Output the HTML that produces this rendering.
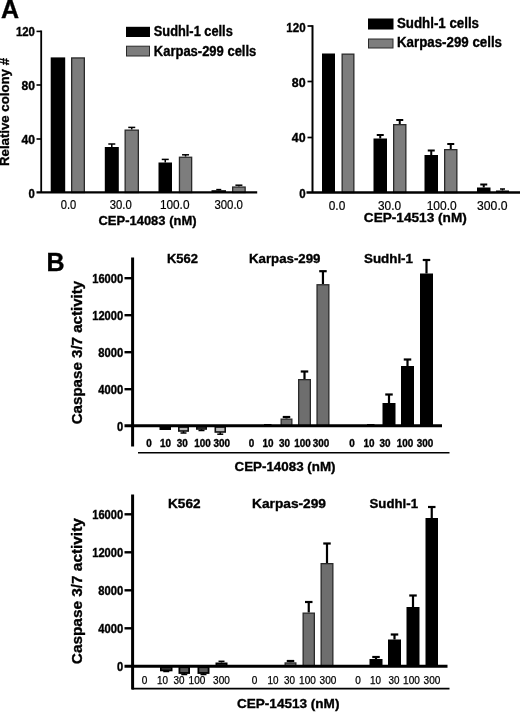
<!DOCTYPE html>
<html lang="en">
<head>
<meta charset="utf-8">
<title>Figure</title>
<style>
html,body{margin:0;padding:0;background:#fff;}
svg{display:block;font-family:"Liberation Sans",Arial,sans-serif;fill:#000;}
</style>
</head>
<body>
<svg width="520" height="712" viewBox="0 0 520 712">
<rect x="0" y="0" width="520" height="712" fill="#fff"/>
<text x="0.9" y="18" font-size="25" font-weight="bold" stroke="#000" stroke-width="0.35">A</text>
<text x="34.9" y="36.4" font-size="12.5" font-weight="bold" stroke="#000" stroke-width="0.35" text-anchor="end" textLength="19" lengthAdjust="spacingAndGlyphs">120</text>
<text x="34.9" y="89.5" font-size="12.5" font-weight="bold" stroke="#000" stroke-width="0.35" text-anchor="end" textLength="13.5" lengthAdjust="spacingAndGlyphs">80</text>
<text x="34.9" y="143.7" font-size="12.5" font-weight="bold" stroke="#000" stroke-width="0.35" text-anchor="end" textLength="13.5" lengthAdjust="spacingAndGlyphs">40</text>
<text x="34.9" y="197.5" font-size="12.5" font-weight="bold" stroke="#000" stroke-width="0.35" text-anchor="end" textLength="6.3" lengthAdjust="spacingAndGlyphs">0</text>
<text transform="translate(9,166) rotate(-90)" font-size="13" font-weight="bold" stroke="#000" stroke-width="0.35" textLength="108" lengthAdjust="spacingAndGlyphs">Relative colony #</text>
<rect x="50.7" y="57.4" width="14.5" height="135.1" fill="#000"/>
<rect x="71.65" y="57.95" width="12.70" height="134.55" fill="#7d7d7d" stroke="#2a2a2a" stroke-width="1.3"/>
<line x1="111.8" y1="147" x2="111.8" y2="144" stroke="#000" stroke-width="1.5"/>
<line x1="108.3" y1="144" x2="115.3" y2="144" stroke="#000" stroke-width="1.5"/>
<rect x="104.8" y="147" width="14.0" height="45.5" fill="#000"/>
<line x1="131.75" y1="129.5" x2="131.75" y2="127.4" stroke="#000" stroke-width="1.5"/>
<line x1="128.25" y1="127.4" x2="135.25" y2="127.4" stroke="#000" stroke-width="1.5"/>
<rect x="125.15" y="130.15" width="13.20" height="62.35" fill="#7d7d7d" stroke="#2a2a2a" stroke-width="1.3"/>
<line x1="165.25" y1="162.5" x2="165.25" y2="159.4" stroke="#000" stroke-width="1.5"/>
<line x1="161.75" y1="159.4" x2="168.75" y2="159.4" stroke="#000" stroke-width="1.5"/>
<rect x="158.5" y="162.5" width="13.5" height="30.0" fill="#000"/>
<line x1="185.55" y1="156.6" x2="185.55" y2="154.8" stroke="#000" stroke-width="1.5"/>
<line x1="182.05" y1="154.8" x2="189.05" y2="154.8" stroke="#000" stroke-width="1.5"/>
<rect x="179.45" y="157.25" width="12.20" height="35.25" fill="#7d7d7d" stroke="#2a2a2a" stroke-width="1.3"/>
<line x1="218.75" y1="190.2" x2="218.75" y2="189.6" stroke="#000" stroke-width="1.5"/>
<line x1="216.25" y1="189.6" x2="221.25" y2="189.6" stroke="#000" stroke-width="1.5"/>
<rect x="211.5" y="190.2" width="14.5" height="2.3000000000000114" fill="#000"/>
<line x1="238.9" y1="186.4" x2="238.9" y2="185.2" stroke="#000" stroke-width="1.5"/>
<line x1="235.4" y1="185.2" x2="242.4" y2="185.2" stroke="#000" stroke-width="1.5"/>
<rect x="232.65" y="187.05" width="12.50" height="5.45" fill="#7d7d7d" stroke="#2a2a2a" stroke-width="1.3"/>
<line x1="41.2" y1="30.5" x2="41.2" y2="193" stroke="#000" stroke-width="1.8"/>
<line x1="36.5" y1="31.4" x2="41.3" y2="31.4" stroke="#000" stroke-width="1.6"/>
<line x1="36.5" y1="85" x2="41.3" y2="85" stroke="#000" stroke-width="1.6"/>
<line x1="36.5" y1="139" x2="41.3" y2="139" stroke="#000" stroke-width="1.6"/>
<line x1="36.5" y1="192.4" x2="257.2" y2="192.4" stroke="#000" stroke-width="2.4"/>
<text x="68.5" y="208.8" font-size="12" text-anchor="middle" textLength="15.5" lengthAdjust="spacingAndGlyphs" stroke="#000" stroke-width="0.2">0.0</text>
<text x="120.8" y="208.8" font-size="12" text-anchor="middle" textLength="22" lengthAdjust="spacingAndGlyphs" stroke="#000" stroke-width="0.2">30.0</text>
<text x="174.7" y="208.8" font-size="12" text-anchor="middle" textLength="29.5" lengthAdjust="spacingAndGlyphs" stroke="#000" stroke-width="0.2">100.0</text>
<text x="228.7" y="208.8" font-size="12" text-anchor="middle" textLength="28.5" lengthAdjust="spacingAndGlyphs" stroke="#000" stroke-width="0.2">300.0</text>
<text x="147.5" y="224.6" font-size="13.5" font-weight="bold" stroke="#000" stroke-width="0.35" text-anchor="middle" textLength="98" lengthAdjust="spacingAndGlyphs">CEP-14083 (nM)</text>
<rect x="126" y="26.8" width="24" height="10.2" fill="#000"/>
<rect x="126.5" y="46.2" width="23" height="9.8" fill="#7d7d7d" stroke="#2a2a2a" stroke-width="1"/>
<text x="153.8" y="36.3" font-size="14" font-weight="bold" stroke="#000" stroke-width="0.35" textLength="79" lengthAdjust="spacingAndGlyphs">Sudhl-1 cells</text>
<text x="153.8" y="55.8" font-size="14" font-weight="bold" stroke="#000" stroke-width="0.35" textLength="102.5" lengthAdjust="spacingAndGlyphs">Karpas-299 cells</text>
<text x="305.6" y="31.6" font-size="12.5" font-weight="bold" stroke="#000" stroke-width="0.35" text-anchor="end" textLength="19.3" lengthAdjust="spacingAndGlyphs">120</text>
<text x="305.6" y="87.1" font-size="12.5" font-weight="bold" stroke="#000" stroke-width="0.35" text-anchor="end" textLength="13.8" lengthAdjust="spacingAndGlyphs">80</text>
<text x="305.6" y="142.3" font-size="12.5" font-weight="bold" stroke="#000" stroke-width="0.35" text-anchor="end" textLength="13.8" lengthAdjust="spacingAndGlyphs">40</text>
<text x="305.6" y="197.6" font-size="12.5" font-weight="bold" stroke="#000" stroke-width="0.35" text-anchor="end" textLength="6.4" lengthAdjust="spacingAndGlyphs">0</text>
<rect x="322" y="53.5" width="13" height="139.0" fill="#000"/>
<rect x="342.15" y="54.15" width="11.70" height="138.35" fill="#7d7d7d" stroke="#2a2a2a" stroke-width="1.3"/>
<line x1="380.25" y1="138.5" x2="380.25" y2="135" stroke="#000" stroke-width="2"/>
<line x1="376.75" y1="135" x2="383.75" y2="135" stroke="#000" stroke-width="2"/>
<rect x="373.5" y="138.5" width="13.5" height="54.0" fill="#000"/>
<line x1="399.75" y1="124" x2="399.75" y2="120" stroke="#000" stroke-width="2"/>
<line x1="396.25" y1="120" x2="403.25" y2="120" stroke="#000" stroke-width="2"/>
<rect x="393.65" y="124.65" width="12.20" height="67.85" fill="#7d7d7d" stroke="#2a2a2a" stroke-width="1.3"/>
<line x1="431.25" y1="155" x2="431.25" y2="150.5" stroke="#000" stroke-width="2"/>
<line x1="427.75" y1="150.5" x2="434.75" y2="150.5" stroke="#000" stroke-width="2"/>
<rect x="424.5" y="155" width="13.5" height="37.5" fill="#000"/>
<line x1="450.75" y1="149" x2="450.75" y2="144" stroke="#000" stroke-width="2"/>
<line x1="447.25" y1="144" x2="454.25" y2="144" stroke="#000" stroke-width="2"/>
<rect x="444.65" y="149.65" width="12.20" height="42.85" fill="#7d7d7d" stroke="#2a2a2a" stroke-width="1.3"/>
<line x1="483.75" y1="187.5" x2="483.75" y2="184.5" stroke="#000" stroke-width="2"/>
<line x1="480.25" y1="184.5" x2="487.25" y2="184.5" stroke="#000" stroke-width="2"/>
<rect x="477" y="187.5" width="13.5" height="5.0" fill="#000"/>
<line x1="502.5" y1="190.5" x2="502.5" y2="189" stroke="#000" stroke-width="1.5"/>
<line x1="500.0" y1="189" x2="505.0" y2="189" stroke="#000" stroke-width="1.5"/>
<rect x="496" y="190.5" width="13" height="2.0" fill="#000"/>
<line x1="312.5" y1="25.2" x2="312.5" y2="193" stroke="#000" stroke-width="2"/>
<line x1="307.5" y1="26" x2="312.5" y2="26" stroke="#000" stroke-width="1.7"/>
<line x1="307.5" y1="81.5" x2="312.5" y2="81.5" stroke="#000" stroke-width="1.7"/>
<line x1="307.5" y1="137.5" x2="312.5" y2="137.5" stroke="#000" stroke-width="1.7"/>
<line x1="306.5" y1="192.5" x2="520" y2="192.5" stroke="#000" stroke-width="2.4"/>
<text x="337" y="210" font-size="12.3" text-anchor="middle" textLength="16.5" lengthAdjust="spacingAndGlyphs" stroke="#000" stroke-width="0.2">0.0</text>
<text x="389.5" y="210" font-size="12.3" text-anchor="middle" textLength="23" lengthAdjust="spacingAndGlyphs" stroke="#000" stroke-width="0.2">30.0</text>
<text x="441.7" y="210" font-size="12.3" text-anchor="middle" textLength="30" lengthAdjust="spacingAndGlyphs" stroke="#000" stroke-width="0.2">100.0</text>
<text x="492.3" y="210" font-size="12.3" text-anchor="middle" textLength="30.5" lengthAdjust="spacingAndGlyphs" stroke="#000" stroke-width="0.2">300.0</text>
<text x="415.3" y="222.4" font-size="13.5" font-weight="bold" stroke="#000" stroke-width="0.35" text-anchor="middle" textLength="103" lengthAdjust="spacingAndGlyphs">CEP-14513 (nM)</text>
<rect x="368" y="18.5" width="25.5" height="11" fill="#000"/>
<rect x="368.5" y="39" width="24.5" height="9" fill="#7d7d7d" stroke="#2a2a2a" stroke-width="1"/>
<text x="397" y="28.3" font-size="14" font-weight="bold" stroke="#000" stroke-width="0.35" textLength="82" lengthAdjust="spacingAndGlyphs">Sudhl-1 cells</text>
<text x="397" y="47.3" font-size="14" font-weight="bold" stroke="#000" stroke-width="0.35" textLength="105" lengthAdjust="spacingAndGlyphs">Karpas-299 cells</text>
<text x="46.4" y="270.9" font-size="25" font-weight="bold" stroke="#000" stroke-width="0.35">B</text>
<text x="123.2" y="430.59999999999997" font-size="12" font-weight="bold" stroke="#000" stroke-width="0.35" text-anchor="end" textLength="6.2" lengthAdjust="spacingAndGlyphs">0</text>
<text x="123.2" y="393.59999999999997" font-size="12" font-weight="bold" stroke="#000" stroke-width="0.35" text-anchor="end" textLength="25" lengthAdjust="spacingAndGlyphs">4000</text>
<line x1="124.5" y1="389.2" x2="133" y2="389.2" stroke="#000" stroke-width="2.4"/>
<text x="123.2" y="356.59999999999997" font-size="12" font-weight="bold" stroke="#000" stroke-width="0.35" text-anchor="end" textLength="25" lengthAdjust="spacingAndGlyphs">8000</text>
<line x1="124.5" y1="352.2" x2="133" y2="352.2" stroke="#000" stroke-width="2.4"/>
<text x="123.2" y="319.59999999999997" font-size="12" font-weight="bold" stroke="#000" stroke-width="0.35" text-anchor="end" textLength="31" lengthAdjust="spacingAndGlyphs">12000</text>
<line x1="124.5" y1="315.2" x2="133" y2="315.2" stroke="#000" stroke-width="2.4"/>
<text x="123.2" y="282.59999999999997" font-size="12" font-weight="bold" stroke="#000" stroke-width="0.35" text-anchor="end" textLength="31" lengthAdjust="spacingAndGlyphs">16000</text>
<line x1="124.5" y1="278.2" x2="133" y2="278.2" stroke="#000" stroke-width="2.4"/>
<text transform="translate(82.4,424.3) rotate(-90)" font-size="14" font-weight="bold" stroke="#000" stroke-width="0.35" textLength="143.5" lengthAdjust="spacingAndGlyphs">Caspase 3/7 activity</text>
<text x="167" y="263.2" font-size="13" font-weight="bold" stroke="#000" stroke-width="0.35" textLength="31" lengthAdjust="spacingAndGlyphs">K562</text>
<text x="249" y="263.2" font-size="13" font-weight="bold" stroke="#000" stroke-width="0.35" textLength="71.5" lengthAdjust="spacingAndGlyphs">Karpas-299</text>
<text x="364" y="263.2" font-size="13" font-weight="bold" stroke="#000" stroke-width="0.35" textLength="49" lengthAdjust="spacingAndGlyphs">Sudhl-1</text>
<rect x="159.5" y="426.2" width="11.5" height="3.8000000000000114" fill="#000"/>
<line x1="183.5" y1="431" x2="183.5" y2="433" stroke="#000" stroke-width="1.5"/>
<line x1="180.5" y1="433" x2="186.5" y2="433" stroke="#000" stroke-width="1.5"/>
<rect x="178.80" y="427.00" width="9.40" height="4.00" fill="#bbb" stroke="#111" stroke-width="1.6"/>
<line x1="201.5" y1="429" x2="201.5" y2="430.5" stroke="#000" stroke-width="1.5"/>
<line x1="198.5" y1="430.5" x2="204.5" y2="430.5" stroke="#000" stroke-width="1.5"/>
<rect x="196.80" y="427.00" width="9.40" height="2.00" fill="#888" stroke="#111" stroke-width="1.6"/>
<line x1="220.25" y1="432" x2="220.25" y2="434.2" stroke="#000" stroke-width="1.5"/>
<line x1="217.25" y1="434.2" x2="223.25" y2="434.2" stroke="#000" stroke-width="1.5"/>
<rect x="215.30" y="427.00" width="9.90" height="5.00" fill="#bbb" stroke="#111" stroke-width="1.6"/>
<rect x="264" y="424" width="7.5" height="2.1999999999999886" fill="#000"/>
<line x1="286.5" y1="418.5" x2="286.5" y2="417" stroke="#000" stroke-width="2.2"/>
<line x1="282.75" y1="417" x2="290.25" y2="417" stroke="#000" stroke-width="2.2"/>
<rect x="281.15" y="419.15" width="10.70" height="7.05" fill="#6e6e6e" stroke="#2a2a2a" stroke-width="1.3"/>
<line x1="304.5" y1="379" x2="304.5" y2="371.5" stroke="#000" stroke-width="2.2"/>
<line x1="300.75" y1="371.5" x2="308.25" y2="371.5" stroke="#000" stroke-width="2.2"/>
<rect x="298.65" y="379.65" width="11.70" height="46.55" fill="#6e6e6e" stroke="#2a2a2a" stroke-width="1.3"/>
<line x1="322.95" y1="284.1" x2="322.95" y2="271.2" stroke="#000" stroke-width="2.2"/>
<line x1="319.2" y1="271.2" x2="326.7" y2="271.2" stroke="#000" stroke-width="2.2"/>
<rect x="317.05" y="284.75" width="11.80" height="141.45" fill="#6e6e6e" stroke="#2a2a2a" stroke-width="1.3"/>
<rect x="367" y="424" width="7.5" height="2.1999999999999886" fill="#000"/>
<line x1="389.0" y1="403" x2="389.0" y2="394.5" stroke="#000" stroke-width="2.2"/>
<line x1="385.25" y1="394.5" x2="392.75" y2="394.5" stroke="#000" stroke-width="2.2"/>
<rect x="382.5" y="403" width="13.0" height="23.19999999999999" fill="#000"/>
<line x1="407.5" y1="366" x2="407.5" y2="359.5" stroke="#000" stroke-width="2.2"/>
<line x1="403.75" y1="359.5" x2="411.25" y2="359.5" stroke="#000" stroke-width="2.2"/>
<rect x="401" y="366" width="13" height="60.19999999999999" fill="#000"/>
<line x1="426.5" y1="273.5" x2="426.5" y2="260" stroke="#000" stroke-width="2.2"/>
<line x1="422.75" y1="260" x2="430.25" y2="260" stroke="#000" stroke-width="2.2"/>
<rect x="420" y="273.5" width="13" height="152.7" fill="#000"/>
<line x1="132.6" y1="257.5" x2="132.6" y2="446.5" stroke="#000" stroke-width="3"/>
<line x1="124.5" y1="425.8" x2="442" y2="425.8" stroke="#000" stroke-width="3"/>
<line x1="138" y1="452.7" x2="449.5" y2="452.7" stroke="#000" stroke-width="1.6"/>
<text x="149" y="447.3" font-size="10" font-weight="bold" stroke="#000" stroke-width="0.35" text-anchor="middle" textLength="5.5" lengthAdjust="spacingAndGlyphs">0</text>
<text x="165.4" y="447.3" font-size="10" font-weight="bold" stroke="#000" stroke-width="0.35" text-anchor="middle" textLength="11" lengthAdjust="spacingAndGlyphs">10</text>
<text x="182.3" y="447.3" font-size="10" font-weight="bold" stroke="#000" stroke-width="0.35" text-anchor="middle" textLength="11" lengthAdjust="spacingAndGlyphs">30</text>
<text x="202.5" y="447.3" font-size="10" font-weight="bold" stroke="#000" stroke-width="0.35" text-anchor="middle" textLength="16.5" lengthAdjust="spacingAndGlyphs">100</text>
<text x="221.7" y="447.3" font-size="10" font-weight="bold" stroke="#000" stroke-width="0.35" text-anchor="middle" textLength="16.5" lengthAdjust="spacingAndGlyphs">300</text>
<text x="251.5" y="447.3" font-size="10" font-weight="bold" stroke="#000" stroke-width="0.35" text-anchor="middle" textLength="5.5" lengthAdjust="spacingAndGlyphs">0</text>
<text x="268" y="447.3" font-size="10" font-weight="bold" stroke="#000" stroke-width="0.35" text-anchor="middle" textLength="11" lengthAdjust="spacingAndGlyphs">10</text>
<text x="284.5" y="447.3" font-size="10" font-weight="bold" stroke="#000" stroke-width="0.35" text-anchor="middle" textLength="11" lengthAdjust="spacingAndGlyphs">30</text>
<text x="302.5" y="447.3" font-size="10" font-weight="bold" stroke="#000" stroke-width="0.35" text-anchor="middle" textLength="16.5" lengthAdjust="spacingAndGlyphs">100</text>
<text x="321" y="447.3" font-size="10" font-weight="bold" stroke="#000" stroke-width="0.35" text-anchor="middle" textLength="16.5" lengthAdjust="spacingAndGlyphs">300</text>
<text x="352" y="447.3" font-size="10" font-weight="bold" stroke="#000" stroke-width="0.35" text-anchor="middle" textLength="5.5" lengthAdjust="spacingAndGlyphs">0</text>
<text x="369" y="447.3" font-size="10" font-weight="bold" stroke="#000" stroke-width="0.35" text-anchor="middle" textLength="11" lengthAdjust="spacingAndGlyphs">10</text>
<text x="385" y="447.3" font-size="10" font-weight="bold" stroke="#000" stroke-width="0.35" text-anchor="middle" textLength="11" lengthAdjust="spacingAndGlyphs">30</text>
<text x="405" y="447.3" font-size="10" font-weight="bold" stroke="#000" stroke-width="0.35" text-anchor="middle" textLength="16.5" lengthAdjust="spacingAndGlyphs">100</text>
<text x="425" y="447.3" font-size="10" font-weight="bold" stroke="#000" stroke-width="0.35" text-anchor="middle" textLength="16.5" lengthAdjust="spacingAndGlyphs">300</text>
<text x="285" y="470.8" font-size="13" font-weight="bold" stroke="#000" stroke-width="0.35" text-anchor="middle" textLength="101" lengthAdjust="spacingAndGlyphs">CEP-14083 (nM)</text>
<text x="123.2" y="670.6999999999999" font-size="12" font-weight="bold" stroke="#000" stroke-width="0.35" text-anchor="end" textLength="6.2" lengthAdjust="spacingAndGlyphs">0</text>
<text x="123.2" y="632.6999999999999" font-size="12" font-weight="bold" stroke="#000" stroke-width="0.35" text-anchor="end" textLength="25" lengthAdjust="spacingAndGlyphs">4000</text>
<line x1="124.5" y1="628.3" x2="133" y2="628.3" stroke="#000" stroke-width="2.4"/>
<text x="123.2" y="594.6999999999999" font-size="12" font-weight="bold" stroke="#000" stroke-width="0.35" text-anchor="end" textLength="25" lengthAdjust="spacingAndGlyphs">8000</text>
<line x1="124.5" y1="590.3" x2="133" y2="590.3" stroke="#000" stroke-width="2.4"/>
<text x="123.2" y="556.6999999999999" font-size="12" font-weight="bold" stroke="#000" stroke-width="0.35" text-anchor="end" textLength="31" lengthAdjust="spacingAndGlyphs">12000</text>
<line x1="124.5" y1="552.3" x2="133" y2="552.3" stroke="#000" stroke-width="2.4"/>
<text x="123.2" y="518.6999999999999" font-size="12" font-weight="bold" stroke="#000" stroke-width="0.35" text-anchor="end" textLength="31" lengthAdjust="spacingAndGlyphs">16000</text>
<line x1="124.5" y1="514.3" x2="133" y2="514.3" stroke="#000" stroke-width="2.4"/>
<text transform="translate(82.4,664.2) rotate(-90)" font-size="14.5" font-weight="bold" stroke="#000" stroke-width="0.35" textLength="146" lengthAdjust="spacingAndGlyphs">Caspase 3/7 activity</text>
<text x="168" y="508.2" font-size="13" font-weight="bold" stroke="#000" stroke-width="0.35" textLength="32.5" lengthAdjust="spacingAndGlyphs">K562</text>
<text x="252" y="508.2" font-size="13" font-weight="bold" stroke="#000" stroke-width="0.35" textLength="74" lengthAdjust="spacingAndGlyphs">Karpas-299</text>
<text x="369.5" y="508.1" font-size="13" font-weight="bold" stroke="#000" stroke-width="0.35" textLength="48.5" lengthAdjust="spacingAndGlyphs">Sudhl-1</text>
<line x1="166.25" y1="670.5" x2="166.25" y2="671.5" stroke="#000" stroke-width="1.5"/>
<line x1="163.25" y1="671.5" x2="169.25" y2="671.5" stroke="#000" stroke-width="1.5"/>
<rect x="160.80" y="667.10" width="10.90" height="3.40" fill="#333" stroke="#000" stroke-width="1.6"/>
<line x1="184.25" y1="673" x2="184.25" y2="674.5" stroke="#000" stroke-width="1.5"/>
<line x1="181.25" y1="674.5" x2="187.25" y2="674.5" stroke="#000" stroke-width="1.5"/>
<rect x="179.40" y="667.20" width="9.70" height="5.80" fill="#555" stroke="#000" stroke-width="1.8"/>
<line x1="203.5" y1="673" x2="203.5" y2="674.5" stroke="#000" stroke-width="1.5"/>
<line x1="200.5" y1="674.5" x2="206.5" y2="674.5" stroke="#000" stroke-width="1.5"/>
<rect x="198.40" y="667.20" width="10.20" height="5.80" fill="#555" stroke="#000" stroke-width="1.8"/>
<line x1="221.5" y1="662.5" x2="221.5" y2="661.3" stroke="#000" stroke-width="1.5"/>
<line x1="218.5" y1="661.3" x2="224.5" y2="661.3" stroke="#000" stroke-width="1.5"/>
<rect x="216.30" y="663.30" width="10.40" height="3.00" fill="#222" stroke="#000" stroke-width="1.6"/>
<line x1="290.5" y1="662.3" x2="290.5" y2="661" stroke="#000" stroke-width="2.2"/>
<line x1="286.75" y1="661" x2="294.25" y2="661" stroke="#000" stroke-width="2.2"/>
<rect x="285.15" y="662.95" width="10.70" height="3.35" fill="#6e6e6e" stroke="#2a2a2a" stroke-width="1.3"/>
<line x1="308.75" y1="612.5" x2="308.75" y2="602" stroke="#000" stroke-width="2.2"/>
<line x1="305.0" y1="602" x2="312.5" y2="602" stroke="#000" stroke-width="2.2"/>
<rect x="303.15" y="613.15" width="11.20" height="53.15" fill="#6e6e6e" stroke="#2a2a2a" stroke-width="1.3"/>
<line x1="327.0" y1="563" x2="327.0" y2="543.5" stroke="#000" stroke-width="2.2"/>
<line x1="323.25" y1="543.5" x2="330.75" y2="543.5" stroke="#000" stroke-width="2.2"/>
<rect x="321.15" y="563.65" width="11.70" height="102.65" fill="#6e6e6e" stroke="#2a2a2a" stroke-width="1.3"/>
<line x1="376.0" y1="659" x2="376.0" y2="657" stroke="#000" stroke-width="2.2"/>
<line x1="372.25" y1="657" x2="379.75" y2="657" stroke="#000" stroke-width="2.2"/>
<rect x="369.5" y="659" width="13.0" height="7.2999999999999545" fill="#000"/>
<line x1="394.5" y1="639.5" x2="394.5" y2="634.5" stroke="#000" stroke-width="2.2"/>
<line x1="390.75" y1="634.5" x2="398.25" y2="634.5" stroke="#000" stroke-width="2.2"/>
<rect x="388" y="639.5" width="13" height="26.799999999999955" fill="#000"/>
<line x1="413.0" y1="607" x2="413.0" y2="595.5" stroke="#000" stroke-width="2.2"/>
<line x1="409.25" y1="595.5" x2="416.75" y2="595.5" stroke="#000" stroke-width="2.2"/>
<rect x="406.5" y="607" width="13.0" height="59.299999999999955" fill="#000"/>
<line x1="431.75" y1="518" x2="431.75" y2="507" stroke="#000" stroke-width="2.2"/>
<line x1="428.0" y1="507" x2="435.5" y2="507" stroke="#000" stroke-width="2.2"/>
<rect x="425.5" y="518" width="12.5" height="148.29999999999995" fill="#000"/>
<line x1="132.6" y1="494.5" x2="132.6" y2="689.5" stroke="#000" stroke-width="3"/>
<line x1="124.5" y1="666.3" x2="447.5" y2="666.3" stroke="#000" stroke-width="3"/>
<line x1="132" y1="688.7" x2="449.5" y2="688.7" stroke="#000" stroke-width="1.8"/>
<text x="144.5" y="683.7" font-size="10.5" text-anchor="middle" textLength="5.6" lengthAdjust="spacingAndGlyphs" stroke="#000" stroke-width="0.25">0</text>
<text x="162.5" y="683.7" font-size="10.5" text-anchor="middle" textLength="11" lengthAdjust="spacingAndGlyphs" stroke="#000" stroke-width="0.25">10</text>
<text x="179" y="683.7" font-size="10.5" text-anchor="middle" textLength="11" lengthAdjust="spacingAndGlyphs" stroke="#000" stroke-width="0.25">30</text>
<text x="197" y="683.7" font-size="10.5" text-anchor="middle" textLength="16.8" lengthAdjust="spacingAndGlyphs" stroke="#000" stroke-width="0.25">100</text>
<text x="221.5" y="683.7" font-size="10.5" text-anchor="middle" textLength="16.8" lengthAdjust="spacingAndGlyphs" stroke="#000" stroke-width="0.25">300</text>
<text x="254.5" y="683.7" font-size="10.5" text-anchor="middle" textLength="5.6" lengthAdjust="spacingAndGlyphs" stroke="#000" stroke-width="0.25">0</text>
<text x="273" y="683.7" font-size="10.5" text-anchor="middle" textLength="11" lengthAdjust="spacingAndGlyphs" stroke="#000" stroke-width="0.25">10</text>
<text x="289.5" y="683.7" font-size="10.5" text-anchor="middle" textLength="11" lengthAdjust="spacingAndGlyphs" stroke="#000" stroke-width="0.25">30</text>
<text x="307.5" y="683.7" font-size="10.5" text-anchor="middle" textLength="16.8" lengthAdjust="spacingAndGlyphs" stroke="#000" stroke-width="0.25">100</text>
<text x="328" y="683.7" font-size="10.5" text-anchor="middle" textLength="16.8" lengthAdjust="spacingAndGlyphs" stroke="#000" stroke-width="0.25">300</text>
<text x="358" y="683.7" font-size="10.5" text-anchor="middle" textLength="5.6" lengthAdjust="spacingAndGlyphs" stroke="#000" stroke-width="0.25">0</text>
<text x="375.5" y="683.7" font-size="10.5" text-anchor="middle" textLength="11" lengthAdjust="spacingAndGlyphs" stroke="#000" stroke-width="0.25">10</text>
<text x="394" y="683.7" font-size="10.5" text-anchor="middle" textLength="11" lengthAdjust="spacingAndGlyphs" stroke="#000" stroke-width="0.25">30</text>
<text x="411.5" y="683.7" font-size="10.5" text-anchor="middle" textLength="16.8" lengthAdjust="spacingAndGlyphs" stroke="#000" stroke-width="0.25">100</text>
<text x="432" y="683.7" font-size="10.5" text-anchor="middle" textLength="16.8" lengthAdjust="spacingAndGlyphs" stroke="#000" stroke-width="0.25">300</text>
<text x="288.2" y="708.2" font-size="13.5" font-weight="bold" stroke="#000" stroke-width="0.35" text-anchor="middle" textLength="102.5" lengthAdjust="spacingAndGlyphs">CEP-14513 (nM)</text>
</svg>
</body>
</html>
